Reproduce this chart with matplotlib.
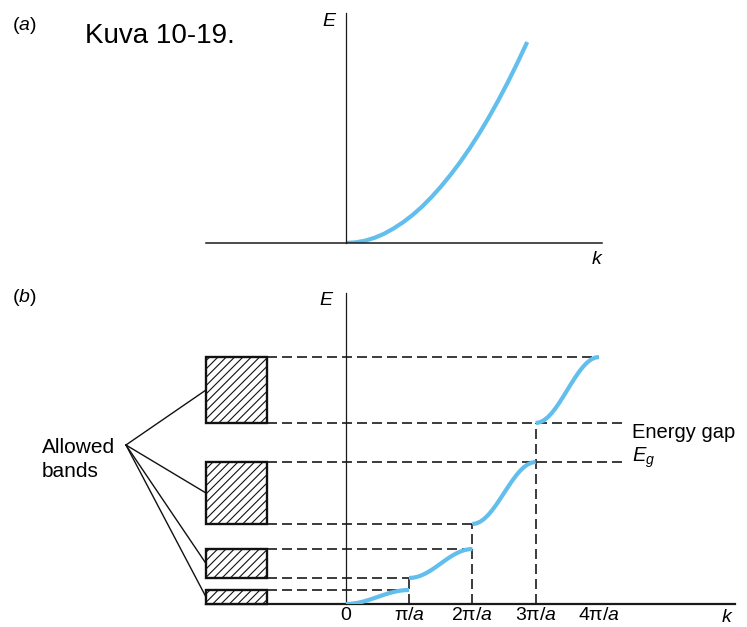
import numpy as np
import matplotlib
matplotlib.use("Agg")
import matplotlib.pyplot as plt
from matplotlib.patches import Rectangle

plt.rcParams['font.family'] = ['Liberation Sans', 'DejaVu Sans']
plt.rcParams['mathtext.fontset'] = 'custom'
plt.rcParams['mathtext.rm'] = 'Liberation Sans'
plt.rcParams['mathtext.it'] = 'Liberation Sans:italic'
plt.rcParams['hatch.linewidth'] = 0.8

# ---------------- data ----------------
# panel (a): free-electron parabola, k in units of pi/a, E arbitrary units
free_k = [0, 0.15, 0.3, 0.45, 0.6, 0.75, 0.9, 1.05, 1.2, 1.35, 1.5,
          1.65, 1.8, 1.95, 2.1, 2.25, 2.4, 2.55, 2.7, 2.86]
free_E = [0, 0.06, 0.23, 0.52, 0.92, 1.45, 2.07, 2.8, 3.64, 4.6, 5.66,
          6.82, 8.08, 9.45, 10.93, 12.52, 14.22, 16.03, 17.95, 20.1]

# panel (b): allowed bands (E of band edges) and the E(k) curve in each zone
band_k_start = [0, 1, 2, 3]
band_bottom = [0.0, 2.6, 8.0, 18.1]
band_top = [1.4, 5.5, 14.2, 24.7]
band_curves = [
    [0.0, 0.013, 0.053, 0.118, 0.205, 0.311, 0.432, 0.564, 0.7,
     0.836, 0.968, 1.089, 1.195, 1.282, 1.347, 1.387, 1.4],
    [2.6, 2.628, 2.71, 2.844, 3.025, 3.244, 3.495, 3.767, 4.05,
     4.333, 4.605, 4.856, 5.075, 5.256, 5.39, 5.472, 5.5],
    [8.0, 8.06, 8.236, 8.523, 8.908, 9.378, 9.914, 10.496, 11.1,
     11.705, 12.286, 12.822, 13.292, 13.677, 13.964, 14.14, 14.2],
    [18.1, 18.163, 18.351, 18.656, 19.066, 19.567, 20.137, 20.757, 21.4,
     22.044, 22.663, 23.233, 23.734, 24.144, 24.449, 24.637, 24.7],
]
tick_values = [0, 1, 2, 3, 4]
tick_labels = ['0', r'$\mathrm{\pi}/a$', r'$2\mathrm{\pi}/a$', r'$3\mathrm{\pi}/a$', r'$4\mathrm{\pi}/a$']

CURVE = '#62BEEC'
INK = '#1a1a1a'
W, H = 747, 627
fig = plt.figure(figsize=(W / 100, H / 100), dpi=100)

def fx(x):
    return x / W

def fy(y):
    return 1 - y / H

# ---------------- panel (a) ----------------
ax_a = fig.add_axes([fx(206), fy(243), (602 - 206) / W, (243 - 13) / H])
ax_a.set_xlim(-2.21, 4.04)
ax_a.set_ylim(0, 23.0)
for s in ['top', 'right']:
    ax_a.spines[s].set_visible(False)
ax_a.spines['left'].set_position(('data', 0))
ax_a.spines['left'].set_linewidth(0.9)
ax_a.spines['bottom'].set_linewidth(1.1)
ax_a.spines['left'].set_color(INK)
ax_a.spines['bottom'].set_color(INK)
ax_a.set_xticks([])
ax_a.set_yticks([])
ax_a.patch.set_alpha(0)
ax_a.plot(free_k, free_E, color=CURVE, lw=3, solid_capstyle='butt',
          solid_joinstyle='round')

# ---------------- panel (b) ----------------
ax_b = fig.add_axes([fx(206), fy(604), (735 - 206) / W, (604 - 293) / H])
ax_b.set_xlim(-2.21, 6.15)
ax_b.set_ylim(0, 31.1)
for s in ['top', 'right']:
    ax_b.spines[s].set_visible(False)
ax_b.spines['left'].set_position(('data', 0))
ax_b.spines['left'].set_linewidth(0.9)
ax_b.spines['left'].set_color(INK)
ax_b.spines['bottom'].set_linewidth(1.6)
ax_b.spines['bottom'].set_color(INK)
ax_b.set_yticks([])
ax_b.set_xticks(tick_values)
ax_b.set_xticklabels(tick_labels, fontsize=14)
ax_b.tick_params(axis='x', length=0, pad=2)
ax_b.patch.set_alpha(0)

box_left, box_right = -2.21, -1.25
gap_end = 4.36
dash = dict(color=INK, lw=1.2, ls=(0, (6, 3)), clip_on=False, zorder=2)

for i in range(4):
    lo, hi = band_bottom[i], band_top[i]
    rect = Rectangle((box_left, lo), box_right - box_left, hi - lo,
                     facecolor='white', edgecolor='#111111', lw=1.7,
                     hatch='////', clip_on=False, zorder=3)
    ax_b.add_patch(rect)
    k0 = band_k_start[i]
    ks = np.linspace(k0, k0 + 1, len(band_curves[i]))
    ax_b.plot(ks, band_curves[i], color=CURVE, lw=3, zorder=4,
              solid_capstyle='butt', solid_joinstyle='round')

# horizontal dashed guide lines from the boxes
ax_b.plot([box_right, 1], [band_top[0]] * 2, **dash)
ax_b.plot([box_right, 1], [band_bottom[1]] * 2, **dash)
ax_b.plot([box_right, 2], [band_top[1]] * 2, **dash)
ax_b.plot([box_right, 2], [band_bottom[2]] * 2, **dash)
ax_b.plot([box_right, gap_end], [band_top[2]] * 2, **dash)
ax_b.plot([box_right, gap_end], [band_bottom[3]] * 2, **dash)
ax_b.plot([box_right, 4], [band_top[3]] * 2, **dash)
# vertical dashed lines at the zone boundaries
for i in range(1, 4):
    ax_b.plot([band_k_start[i]] * 2, [0, band_bottom[i]], **dash)

# leader lines from the "Allowed bands" label
lead_k, lead_E = -3.475, 15.9
for i in range(4):
    ax_b.plot([lead_k, box_left], [lead_E, (band_bottom[i] + band_top[i]) / 2],
              color='#111111', lw=1.0, clip_on=False, zorder=3)

# ---------------- texts ----------------
fig.text(fx(12), fy(25), r'($a$)', fontsize=14, va='center', ha='left')
fig.text(fx(12), fy(298), r'($b$)', fontsize=14, va='center', ha='left')
fig.text(fx(85), fy(43), 'Kuva 10-19.', fontsize=20, va='baseline', ha='left')
fig.text(fx(329), fy(21), 'E', fontsize=14, style='italic', va='center', ha='center')
fig.text(fx(597), fy(260), 'k', fontsize=14, style='italic', va='center', ha='center')
fig.text(fx(326), fy(300), 'E', fontsize=14, style='italic', va='center', ha='center')
fig.text(fx(727), fy(618), 'k', fontsize=14, style='italic', va='center', ha='center')
fig.text(fx(632), fy(438), 'Energy gap', fontsize=14.5, va='baseline', ha='left')
fig.text(fx(632), fy(462), r'$E_g$', fontsize=14.5, va='baseline', ha='left')
fig.text(fx(42), fy(453), 'Allowed', fontsize=15, va='baseline', ha='left')
fig.text(fx(42), fy(477), 'bands', fontsize=15, va='baseline', ha='left')

fig.savefig('out.png', dpi=100)
